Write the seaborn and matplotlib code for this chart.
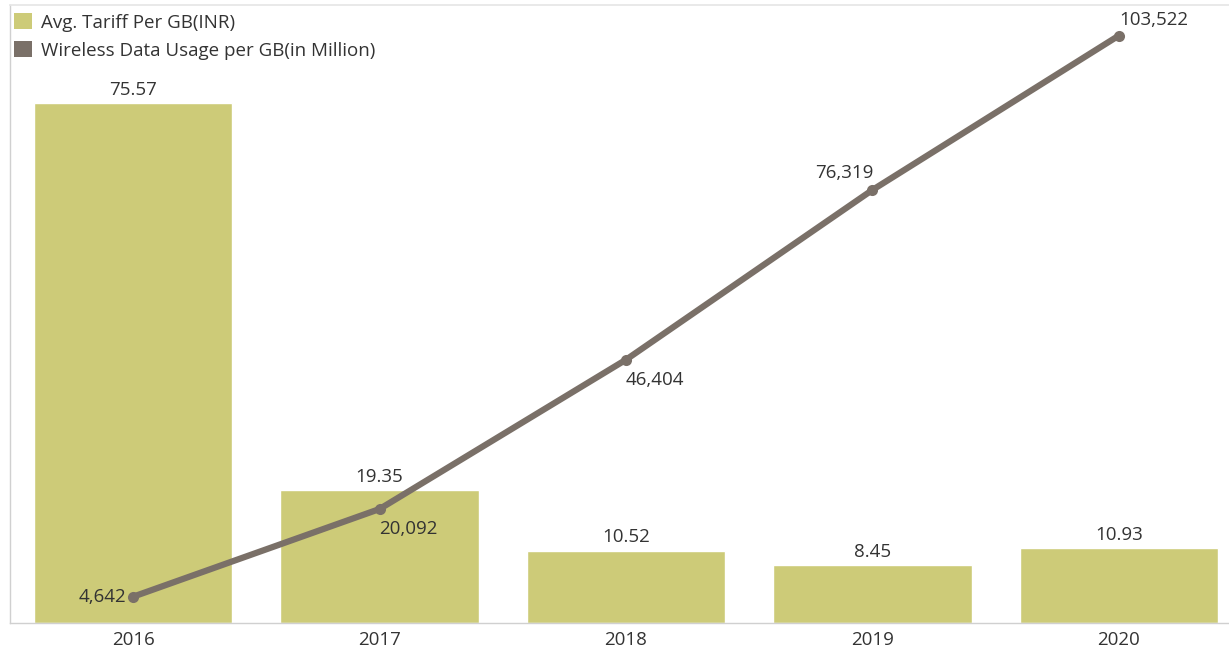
import matplotlib
matplotlib.use("Agg")
import matplotlib.pyplot as plt
import seaborn as sns
import pandas as pd
from matplotlib.patches import Patch

years = ["2016", "2017", "2018", "2019", "2020"]
tariff = [75.57, 19.35, 10.52, 8.45, 10.93]
usage = [4642, 20092, 46404, 76319, 103522]
tariff_labels = ["75.57", "19.35", "10.52", "8.45", "10.93"]
usage_labels = ["4,642", "20,092", "46,404", "76,319", "103,522"]

BAR = "#CDCB78"
LINE = "#7A7068"
TXT = "#333333"
FS = 13.5

sns.set_theme(style="white")
plt.rcParams["font.family"] = ["Open Sans", "DejaVu Sans"]

df = pd.DataFrame({"year": years, "tariff": tariff, "usage": usage})

fig = plt.figure(figsize=(12.29, 6.54), dpi=100)
ax = fig.add_axes([10/1229, 31/654, (5*246.4)/1229, (623-5)/654])

sns.barplot(data=df, x="year", y="tariff", color=BAR, width=0.805, ax=ax,
            saturation=1)
ax.set_xlim(-0.5, 4.5)
ax.set_ylim(0, 618/6.88)
ax.set_xlabel("")
ax.set_ylabel("")
ax.set_yticks([])
ax.tick_params(axis="x", length=0, labelsize=FS, colors=TXT, pad=6)
ax.spines["right"].set_visible(False)
ax.spines["top"].set_color("#E6E6E6")
ax.spines["left"].set_color("#D0D0D0")
ax.spines["bottom"].set_color("#D0D0D0")
ax.spines["left"].set_linewidth(1)
ax.spines["bottom"].set_linewidth(1)

for i, (v, lab) in enumerate(zip(tariff, tariff_labels)):
    ax.annotate(lab, (i, v), xytext=(0, 3), textcoords="offset points",
                ha="center", va="bottom", fontsize=FS, color=TXT)

ax2 = ax.twinx()
sns.lineplot(x=list(range(len(years))), y=usage, ax=ax2, color=LINE,
             linewidth=4.5, marker="o", markersize=8, markeredgewidth=0,
             solid_capstyle="round")
ax2.set_ylim(0, 618/0.005674)
ax2.set_xlim(-0.5, 4.5)
ax2.set_yticks([])
ax2.set_ylabel("")
for s in ax2.spines.values():
    s.set_visible(False)

offsets = [(-5, 0, "right", "center"), (0, -8, "left", "top"),
           (0, -8, "left", "top"), (1, 6, "right", "bottom"),
           (0, 5, "left", "bottom")]
for i, (v, lab) in enumerate(zip(usage, usage_labels)):
    dx, dy, ha, va = offsets[i]
    ax2.annotate(lab, (i, v), xytext=(dx, dy), textcoords="offset points",
                 ha=ha, va=va, fontsize=FS, color=TXT)

handles = [Patch(facecolor=BAR, edgecolor="none"),
           Patch(facecolor=LINE, edgecolor="none")]
leg = fig.legend(handles, ["Avg. Tariff Per GB(INR)",
                           "Wireless Data Usage per GB(in Million)"],
                 loc="upper left", bbox_to_anchor=(2/1229, 1 - 1/654),
                 frameon=False, fontsize=FS, handlelength=0.95,
                 handleheight=0.95, handletextpad=0.5, labelspacing=0.5,
                 borderpad=0.15)
for t in leg.get_texts():
    t.set_color(TXT)

fig.savefig("out.png", dpi=100, facecolor="white")
